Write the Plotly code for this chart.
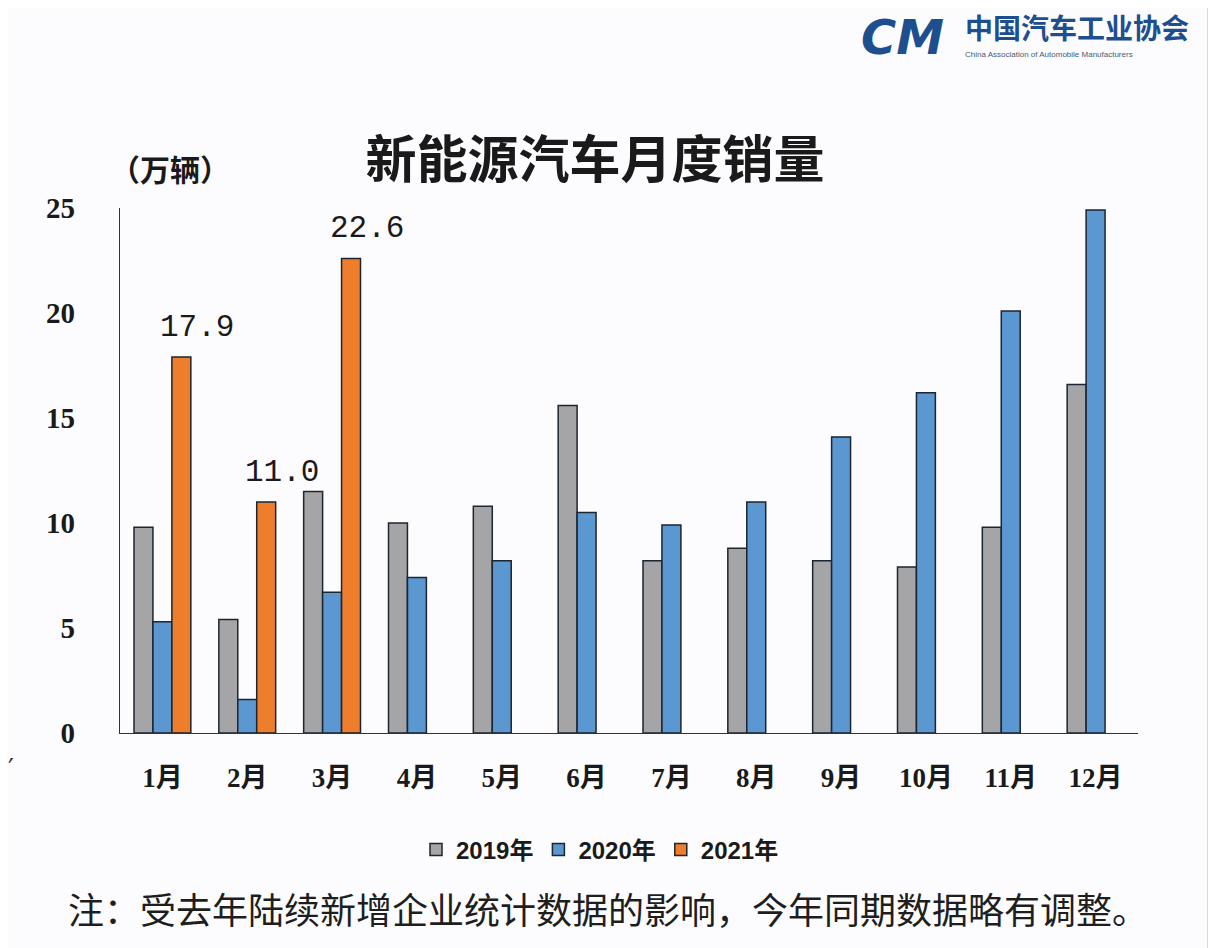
import plotly.graph_objects as go

# Monthly NEV sales (10k vehicles)
months = ["1月", "2月", "3月", "4月", "5月", "6月", "7月", "8月", "9月", "10月", "11月", "12月"]
sales_2019 = [9.8, 5.4, 11.5, 10.0, 10.8, 15.6, 8.2, 8.8, 8.2, 7.9, 9.8, 16.6]
sales_2020 = [5.3, 1.6, 6.7, 7.4, 8.2, 10.5, 9.9, 11.0, 14.1, 16.2, 20.1, 24.9]
months_2021 = ["1月", "2月", "3月"]
sales_2021 = [17.9, 11.0, 22.6]
y_ticks = [0, 5, 10, 15, 20, 25]

# page has an 8px body margin, so the figure is 8px smaller than the window
PAD = 8
W, H = 1216 - PAD, 948 - PAD
L, R, T, B = 120 - PAD, 78, 208 - PAD, 215
bg = "#fcfcfe"
outline = dict(color="#1c2530", width=1.5)
cjk = "Noto Sans CJK SC"
serif = "Liberation Serif, Noto Sans CJK SC"


def px(x):
    # page pixel -> paper x
    return (x - PAD - L) / (W - L - R)


def py(y):
    # page pixel -> paper y
    return (H - B - (y - PAD)) / (H - T - B)


fig = go.Figure()
fig.add_trace(go.Bar(x=months, y=sales_2019, name="2019年",
                     marker=dict(color="#a5a5a7", line=outline)))
fig.add_trace(go.Bar(x=months, y=sales_2020, name="2020年",
                     marker=dict(color="#5b97d1", line=outline)))
fig.add_trace(go.Bar(x=months_2021, y=sales_2021, name="2021年",
                     marker=dict(color="#ee7d2c", line=outline)))

# value labels for 2021 bars
for m, v in zip(months_2021, sales_2021):
    fig.add_annotation(x=m, y=v, text=f"{v:.1f}", showarrow=False,
                       xshift=35, yshift=10, yanchor="bottom",
                       font=dict(family="Liberation Mono", size=31, color="#1a1a1a"))

# unit label
fig.add_annotation(x=px(170), y=py(168), xref="paper", yref="paper",
                   text="（万辆）", showarrow=False, xanchor="center", yanchor="middle",
                   font=dict(family=cjk, size=30, color="#1a1a1a", weight="bold"))

# footnote
fig.add_annotation(x=px(608), y=py(908), xref="paper", yref="paper",
                   text="注：受去年陆续新增企业统计数据的影响，今年同期数据略有调整。",
                   showarrow=False, xanchor="center", yanchor="middle",
                   font=dict(family=cjk, size=36, color="#1e1e1e"))

# logo (text approximation)
fig.add_annotation(x=px(902), y=py(37), xref="paper", yref="paper",
                   text="CM", showarrow=False, xanchor="center", yanchor="middle",
                   font=dict(family="DejaVu Sans", size=48, color="#1d4f8f",
                             weight="bold", style="italic"))
fig.add_annotation(x=px(963), y=py(27), xref="paper", yref="paper",
                   text="中国汽车工业协会", showarrow=False, xanchor="left", yanchor="middle",
                   font=dict(family=cjk, size=28, color="#1d4f8f", weight="bold"))
fig.add_annotation(x=px(963), y=py(54), xref="paper", yref="paper",
                   text="China Association of Automobile Manufacturers", showarrow=False,
                   xanchor="left", yanchor="middle",
                   font=dict(family="Liberation Sans", size=8, color="#4a5a70"))

# stray mark at the left edge of the scan
fig.add_annotation(x=px(11), y=py(769), xref="paper", yref="paper",
                   text="′", showarrow=False, xanchor="center", yanchor="middle",
                   font=dict(family="DejaVu Sans", size=26, color="#333"))

fig.update_layout(
    width=W, height=H,
    margin=dict(l=L, r=R, t=T, b=B),
    paper_bgcolor=bg, plot_bgcolor=bg,
    barmode="group", bargap=0.33, bargroupgap=0,
    title=dict(text="新能源汽车月度销量", x=(595 - PAD) / W, xanchor="center",
               y=1 - (160 - PAD) / H, yanchor="middle", yref="container",
               font=dict(family=cjk, size=51, color="#1a1a1a", weight="bold")),
    legend=dict(orientation="h", x=px(600), xanchor="center",
                y=py(850), yanchor="middle",
                font=dict(family="Liberation Sans Narrow, Liberation Sans, Noto Sans CJK SC",
                          size=24, color="#1a1a1a", weight="bold"),
                itemwidth=30, tracegroupgap=0, bgcolor="rgba(0,0,0,0)"),
    shapes=[dict(type="rect", xref="paper", yref="paper",
                 x0=px(1207), x1=px(1216), y0=py(948), y1=py(8),
                 fillcolor="#d8d8dc", line=dict(width=0), layer="above")],
)

fig.update_xaxes(showline=True, linecolor="#333", linewidth=1.2, showgrid=False,
                 ticks="", ticklabelstandoff=20,
                 tickfont=dict(family=serif, size=27, color="#1a1a1a", weight="bold"))
fig.update_yaxes(range=[0, 25], tickvals=y_ticks, showline=True, linecolor="#333",
                 linewidth=1.2, showgrid=False, zeroline=False, ticks="",
                 ticklabelstandoff=38,
                 tickfont=dict(family=serif, size=29, color="#1a1a1a", weight="bold"))

fig.write_html("out.html")
